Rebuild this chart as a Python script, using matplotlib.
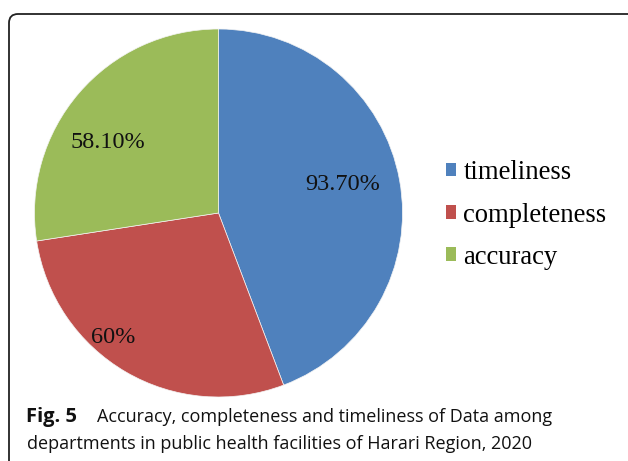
import matplotlib
matplotlib.use("Agg")
import matplotlib.pyplot as plt
from matplotlib.patches import FancyBboxPatch, Patch

categories = ["timeliness", "completeness", "accuracy"]
values = [93.70, 60.0, 58.10]
value_labels = ["93.70%", "60%", "58.10%"]
colors = ["#4F81BD", "#C0504D", "#9BBB59"]
caption_bold = "Fig. 5"
caption_line1 = "Accuracy, completeness and timeliness of Data among"
caption_line2 = "departments in public health facilities of Harari Region, 2020"

W, H = 628, 461
DPI = 100
fig = plt.figure(figsize=(W / DPI, H / DPI), dpi=DPI)

# frame with rounded corners (bottom and right run off the figure)
x0, x1, ytop = 9, 640, 14
frame = FancyBboxPatch((x0, -60), x1 - x0, (H - ytop) + 60,
                       boxstyle="round,pad=0,rounding_size=9",
                       transform=None, fill=False,
                       edgecolor="#222222", linewidth=1.3)
fig.patches.append(frame)

cx, cy, r = 218.5, H - 213, 184
ax = fig.add_axes([(cx - r) / W, (cy - r) / H, 2 * r / W, 2 * r / H])
wedges, _ = ax.pie(values, colors=colors, startangle=90, counterclock=False,
                   radius=1, wedgeprops=dict(linewidth=0.5, edgecolor="#f4f4f4"))
ax.set_xlim(-1, 1)
ax.set_ylim(-1, 1)
ax.set_aspect("equal")
ax.axis("off")

label_pos = [(0.675, 0.155), (-0.57, -0.675), (-0.6, 0.385)]
serif = ["Liberation Serif", "DejaVu Serif"]
for (x, y), t in zip(label_pos, value_labels):
    ax.text(x, y, t, ha="center", va="center", fontsize=17.5,
            family=serif, color="#111111")

leg = fig.legend(handles=[Patch(facecolor=c, edgecolor="none") for c in colors],
                 labels=categories, loc="center left",
                 bbox_to_anchor=(446 / W, (H - 215) / H),
                 frameon=False, prop={"family": serif, "size": 19.2},
                 handlelength=0.38, handleheight=0.38, handletextpad=0.27,
                 labelspacing=0.64, borderpad=0, borderaxespad=0)

cap_font = ["Open Sans", "DejaVu Sans"]
fs = 13
fig.text(26 / W, 1 - 422 / H, caption_bold, fontsize=14.5, fontweight="bold",
         family=cap_font, va="baseline", ha="left", color="#111111")
fig.text(97 / W, 1 - 422 / H, caption_line1, fontsize=fs,
         family=cap_font, va="baseline", ha="left", color="#111111")
fig.text(27 / W, 1 - 449 / H, caption_line2, fontsize=fs,
         family=cap_font, va="baseline", ha="left", color="#111111")

fig.savefig("out.png", dpi=DPI)
